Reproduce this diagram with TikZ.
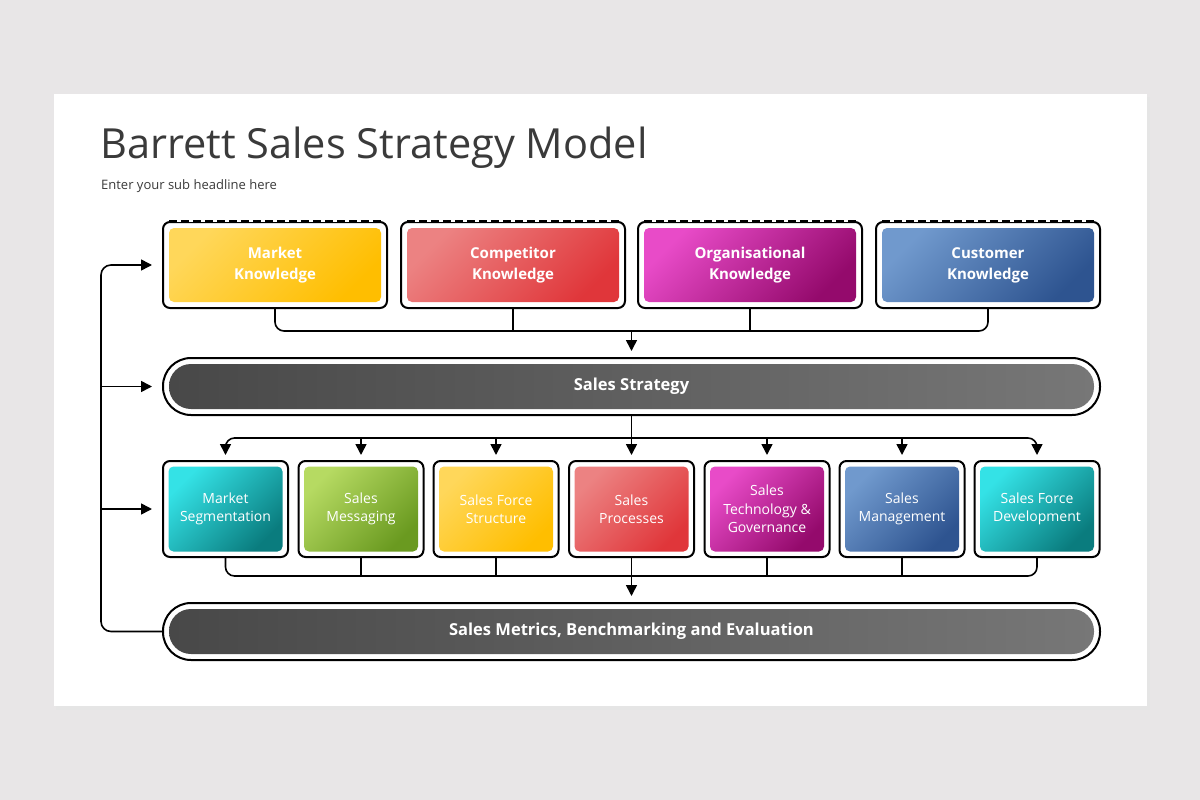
\documentclass[tikz,border=0pt]{standalone}
\usepackage{fontspec}
\setmainfont{Open Sans}
\usetikzlibrary{arrows.meta}

\definecolor{backgr}{HTML}{E8E6E7}
\definecolor{ink}{HTML}{3A3A3A}
\definecolor{yelA}{HTML}{FFD75A}
\definecolor{yelB}{HTML}{FFBE00}
\definecolor{redA}{HTML}{EC8282}
\definecolor{redB}{HTML}{E0363A}
\definecolor{magA}{HTML}{E84BC8}
\definecolor{magB}{HTML}{940A6C}
\definecolor{bluA}{HTML}{7099CD}
\definecolor{bluB}{HTML}{2E5490}
\definecolor{teaA}{HTML}{34E2E6}
\definecolor{teaB}{HTML}{0A7C7E}
\definecolor{grnA}{HTML}{B6DA62}
\definecolor{grnB}{HTML}{6A9A20}
\definecolor{gryA}{HTML}{484848}
\definecolor{gryB}{HTML}{777777}

\tikzset{
  frame/.style={draw=black, line width=2pt, fill=white, rounded corners=7pt,
    inner sep=0pt},
  knowframe/.style={frame, minimum width=224pt, minimum height=86pt},
  areaframe/.style={frame, minimum width=125pt, minimum height=96pt},
  pillframe/.style={frame, rounded corners=28pt, minimum width=937pt,
    minimum height=57pt},
  tile/.style 2 args={rounded corners=5pt, inner sep=0pt, text=white,
    align=center, top color=#1, bottom color=#2, shading angle=45},
  knowtile/.style={minimum width=212pt, minimum height=74pt,
    font=\fontsize{15}{21}\selectfont\bfseries},
  areatile/.style={minimum width=114pt, minimum height=85pt,
    font=\fontsize{14}{18.5}\selectfont},
  pilltile/.style={rounded corners=22pt, inner sep=0pt, text=white,
    minimum width=925pt, minimum height=45pt, left color=gryA,
    right color=gryB, font=\fontsize{16.5}{20}\selectfont\bfseries},
  link/.style={line width=1.6pt, black},
  arr/.style={link, -{Triangle[length=11pt,width=11pt]}},
  dashtop/.style={line width=2pt, dash pattern=on 8pt off 4pt}
}

\begin{document}
\begin{tikzpicture}[x=1pt,y=-1pt]
\fill[backgr] (0,0) rectangle (1200,800);
\fill[black!10] (56,97) rectangle (1150,710);
\fill[white] (54,94) rectangle (1147,706);

\node[anchor=base west, text=ink, font=\fontsize{41.5}{46}\selectfont,
  inner sep=0pt] (title) at (100,158) {Barrett Sales Strategy Model};
\node[anchor=base west, text=ink, font=\fontsize{13}{16}\selectfont,
  inner sep=0pt] (subtitle) at (101,189) {Enter your sub headline here};

\node[knowframe] (mk) at (275,265) {};
\node[knowframe] (ck) at (513,265) {};
\node[knowframe] (ok) at (750,265) {};
\node[knowframe] (cu) at (988,265) {};
\draw[white, line width=2.6pt] ([xshift=8pt]mk.north west) -- ([xshift=-8pt]mk.north east);
\draw[white, line width=2.6pt] ([xshift=8pt]ck.north west) -- ([xshift=-8pt]ck.north east);
\draw[white, line width=2.6pt] ([xshift=8pt]ok.north west) -- ([xshift=-8pt]ok.north east);
\draw[white, line width=2.6pt] ([xshift=8pt]cu.north west) -- ([xshift=-8pt]cu.north east);
\draw[dashtop] ([xshift=7pt]mk.north west) -- ([xshift=-7pt]mk.north east);
\draw[dashtop] ([xshift=7pt]ck.north west) -- ([xshift=-7pt]ck.north east);
\draw[dashtop] ([xshift=7pt]ok.north west) -- ([xshift=-7pt]ok.north east);
\draw[dashtop] ([xshift=7pt]cu.north west) -- ([xshift=-7pt]cu.north east);
\node[tile={yelA}{yelB}, knowtile] (mk-t) at (mk) {Market\\Knowledge};
\node[tile={redA}{redB}, knowtile] (ck-t) at (ck) {Competitor\\Knowledge};
\node[tile={magA}{magB}, knowtile] (ok-t) at (ok) {Organisational\\Knowledge};
\node[tile={bluA}{bluB}, knowtile] (cu-t) at (cu) {Customer\\Knowledge};

\node[pillframe] (ss) at (631.5,386.5) {};
\node[pilltile] (ss-t) at (ss) {Sales Strategy};

\node[areaframe] (seg) at (225.5,509) {};
\node[areaframe] (msg) at (361,509) {};
\node[areaframe] (sfs) at (496,509) {};
\node[areaframe] (prc) at (631.5,509) {};
\node[areaframe] (tec) at (767,509) {};
\node[areaframe] (mgt) at (902,509) {};
\node[areaframe] (dev) at (1037,509) {};
\node[tile={teaA}{teaB}, areatile] (seg-t) at (seg) {Market\\Segmentation};
\node[tile={grnA}{grnB}, areatile] (msg-t) at (msg) {Sales\\Messaging};
\node[tile={yelA}{yelB}, areatile] (sfs-t) at (sfs) {Sales Force\\Structure};
\node[tile={redA}{redB}, areatile] (prc-t) at (prc) {Sales\\Processes};
\node[tile={magA}{magB}, areatile] (tec-t) at (tec) {Sales\\Technology \&\\Governance};
\node[tile={bluA}{bluB}, areatile] (mgt-t) at (mgt) {Sales\\Management};
\node[tile={teaA}{teaB}, areatile] (dev-t) at (dev) {Sales Force\\Development};

\node[pillframe] (ms) at (631.5,631.5) {};
\node[pilltile] (ms-t) at (ms) {Sales Metrics, Benchmarking and Evaluation};

\coordinate (kbus) at (631.5,331);
\coordinate (sbus) at (631.5,438);
\coordinate (mbus) at (631.5,576);
\coordinate (fb) at (101,0);

\draw[link, rounded corners=9pt] (mk.south) |- (kbus) -| (cu.south);
\draw[link] (ck.south) -- (ck.south |- kbus);
\draw[link] (ok.south) -- (ok.south |- kbus);
\draw[arr] (kbus) -- ([yshift=6pt]ss.north);

\draw[arr] (ss.south) -- ([yshift=5pt]prc.north);
\draw[arr, rounded corners=9pt] (sbus) -| ([yshift=5pt]seg.north);
\draw[arr, rounded corners=9pt] (sbus) -| ([yshift=5pt]dev.north);
\draw[arr] (msg.north |- sbus) -- ([yshift=5pt]msg.north);
\draw[arr] (sfs.north |- sbus) -- ([yshift=5pt]sfs.north);
\draw[arr] (tec.north |- sbus) -- ([yshift=5pt]tec.north);
\draw[arr] (mgt.north |- sbus) -- ([yshift=5pt]mgt.north);

\draw[link, rounded corners=9pt] (seg.south) |- (mbus) -| (dev.south);
\draw[link] (msg.south) -- (msg.south |- mbus);
\draw[link] (sfs.south) -- (sfs.south |- mbus);
\draw[link] (tec.south) -- (tec.south |- mbus);
\draw[link] (mgt.south) -- (mgt.south |- mbus);
\draw[arr] (prc.south) -- ([yshift=6pt]ms.north);

\draw[arr, rounded corners=10pt] (ms.west) -| (fb |- mk) -- ([xshift=-10pt]mk.west);
\draw[arr] (fb |- ss) -- ([xshift=-10pt]ss.west);
\draw[arr] (fb |- seg) -- ([xshift=-10pt]seg.west);
\end{tikzpicture}
\end{document}
